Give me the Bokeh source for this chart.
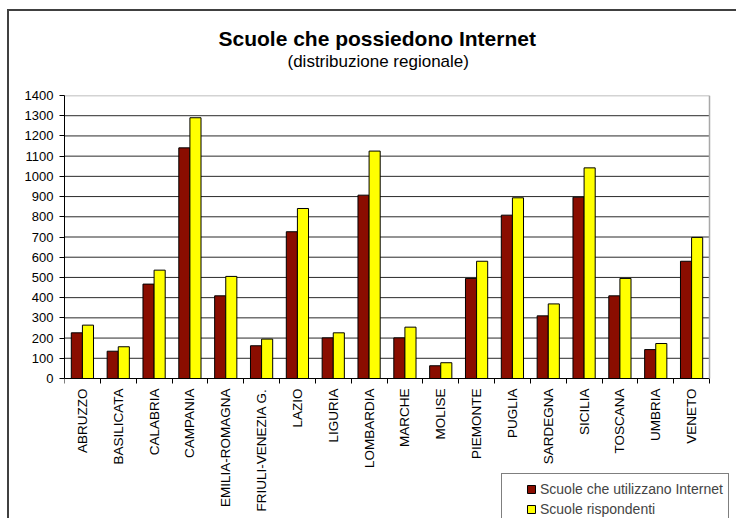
import math
from bokeh.plotting import figure
from bokeh.models import Range1d, FixedTicker, Legend, LegendItem, Title, ColumnDataSource, LinearAxis
from bokeh.transform import dodge
from bokeh.embed import file_html
from bokeh.resources import INLINE

regions = ["ABRUZZO", "BASILICATA", "CALABRIA", "CAMPANIA", "EMILIA-ROMAGNA",
           "FRIULI-VENEZIA G.", "LAZIO", "LIGURIA", "LOMBARDIA", "MARCHE", "MOLISE",
           "PIEMONTE", "PUGLIA", "SARDEGNA", "SICILIA", "TOSCANA", "UMBRIA", "VENETO"]
utilizzano = [226, 135, 467, 1141, 409, 162, 726, 201, 907, 201, 63, 495, 808, 310, 897, 409, 143, 580]
rispondenti = [264, 157, 536, 1290, 505, 195, 841, 226, 1125, 254, 78, 580, 894, 369, 1042, 495, 173, 698]
y_ticks = list(range(0, 1401, 100))
Y_MAX = 1400

FONT = "Liberation Sans"

# layout (pixels)
W, H = 736, 518
LEFT, TOP = 64, 95          # plot area left / top edge
RIGHT, BOTTOM = 709, 378    # plot area right / bottom (value 0) edge

n = len(regions)
pos = [i + 0.5 for i in range(n)]
source = ColumnDataSource(dict(x=pos, u=utilizzano, r=rispondenti))

# the frame extends to the canvas edges so the legend below the axis stays visible
x_end = n * (W - LEFT) / (RIGHT - LEFT)
y_start = -Y_MAX * (H - BOTTOM) / (BOTTOM - TOP)

p = figure(width=W, height=H, x_range=Range1d(0, x_end), y_range=Range1d(y_start, Y_MAX),
           output_backend="svg", toolbar_location=None,
           min_border_left=LEFT, min_border_right=0, min_border_top=TOP, min_border_bottom=0,
           background_fill_color="white", border_fill_color=None)
p.title = None
p.outline_line_color = None
p.styles = {"box-shadow": "inset 7px 9px 0 0 #ffffff, inset 9px 11px 0 0 #404040"}

sub = Title(text="(distribuzione regionale)", align="left", offset=223,
            text_font=FONT, text_font_size="17px", text_font_style="normal",
            text_color="black", standoff=50)
main = Title(text="Scuole che possiedono Internet", align="left", offset=154,
             text_font=FONT, text_font_size="21px", text_font_style="bold",
             text_color="black", standoff=-50)
p.add_layout(sub, "above")
p.add_layout(main, "above")

# grid lines (value levels) across the category span
grid_src = ColumnDataSource(dict(y=y_ticks[1:-1], x0=[0] * (len(y_ticks) - 2), x1=[n] * (len(y_ticks) - 2)))
p.segment(x0="x0", y0="y", x1="x1", y1="y", source=grid_src, line_color="#2a2a2a", line_width=1)
p.segment(x0=[0], y0=[Y_MAX], x1=[n], y1=[Y_MAX], line_color="#a8a8a8", line_width=1.5)

r1 = p.vbar(x=dodge("x", -0.155), top="u", width=0.31, source=source,
            fill_color="#8A0D00", line_color="black", line_width=1)
r2 = p.vbar(x=dodge("x", 0.155), top="r", width=0.31, source=source,
            fill_color="#FFFF00", line_color="black", line_width=1)

# y axis
p.xgrid.visible = False
p.ygrid.visible = False
p.yaxis.ticker = FixedTicker(ticks=y_ticks)
p.yaxis.bounds = (0, Y_MAX)
p.yaxis.major_tick_in = 0
p.yaxis.major_tick_out = 5
p.yaxis.minor_tick_line_color = None
p.yaxis.axis_line_color = "black"
p.yaxis.major_tick_line_color = "black"
p.yaxis.major_label_text_font = FONT
p.yaxis.major_label_text_font_size = "13px"
p.yaxis.major_label_text_color = "black"
p.yaxis.major_label_standoff = 6

# right border of the plot area
right_axis = LinearAxis(fixed_location=n, bounds=(0, Y_MAX), axis_line_color="#a8a8a8",
                        axis_line_width=1.5, major_tick_line_color=None,
                        minor_tick_line_color=None, major_label_text_alpha=0,
                        major_label_text_font_size="1px", ticker=FixedTicker(ticks=[]))
p.add_layout(right_axis, "right")

# x axis: labels at centres, ticks at category boundaries
p.xaxis.fixed_location = 0
p.xaxis.bounds = (0, n)
p.xaxis.ticker = FixedTicker(ticks=pos, minor_ticks=list(range(n + 1)))
p.xaxis.major_label_overrides = {x: name for x, name in zip(pos, regions)}
p.xaxis.major_tick_line_color = None
p.xaxis.major_tick_out = 5
p.xaxis.major_tick_in = 0
p.xaxis.minor_tick_in = 0
p.xaxis.minor_tick_out = 5
p.xaxis.minor_tick_line_color = "black"
p.xaxis.axis_line_color = "black"
p.xaxis.major_label_orientation = math.pi / 2
p.xaxis.major_label_text_font = FONT
p.xaxis.major_label_text_font_size = "13.5px"
p.xaxis.major_label_text_color = "black"
p.xaxis.major_label_standoff = 5

legend = Legend(items=[LegendItem(label="Scuole che utilizzano Internet", renderers=[r1]),
                       LegendItem(label="Scuole rispondenti", renderers=[r2])],
                location=(501 - LEFT, -7), orientation="vertical",
                border_line_color="black", border_line_width=1,
                background_fill_color="white", background_fill_alpha=1,
                label_text_font=FONT, label_text_font_size="14px",
                glyph_width=10, glyph_height=10, label_standoff=4,
                spacing=0, padding=5, label_height=20, margin=0,
                title=" ", title_location="left", title_text_font_size="10px",
                title_standoff=8)
p.add_layout(legend, "center")

open("out.html", "w").write(file_html(p, INLINE))
